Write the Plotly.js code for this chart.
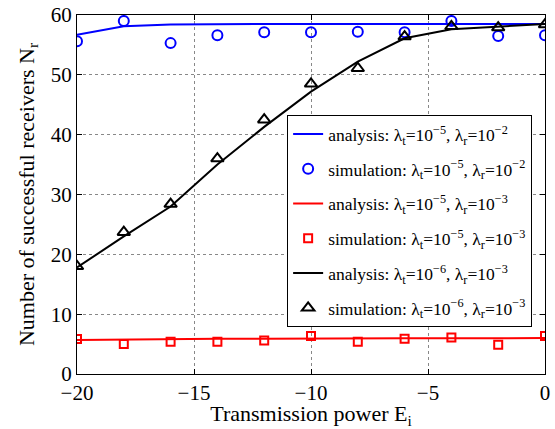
<!DOCTYPE html>
<html><head><meta charset="utf-8">
<script src="https://cdn.plot.ly/plotly-3.0.1.min.js"></script>
<style>html,body{margin:0;padding:0;background:#fff}</style>
</head><body>
<div id="chart" style="width:555px;height:429px"></div>
<script>
var xs = [-20, -18, -16, -14, -12, -10, -8, -6, -4, -2, 0];
var anaBlue = [56.7, 58.1, 58.4, 58.5, 58.5, 58.5, 58.5, 58.5, 58.5, 58.5, 58.5];
var simBlue = [55.6, 59.0, 55.3, 56.6, 57.1, 57.1, 57.2, 57.1, 59.0, 56.5, 56.6];
var anaRed = [5.7, 5.8, 5.85, 5.9, 5.9, 5.95, 5.95, 5.97, 5.97, 5.97, 6.0];
var simRed = [5.85, 5.0, 5.4, 5.4, 5.6, 6.35, 5.4, 5.9, 6.1, 4.9, 6.35];
var anaBlack = [17.8, 23.0, 28.0, 35.0, 41.3, 47.2, 52.2, 56.1, 57.6, 58.1, 58.5];
var simBlack = [18.0, 23.7, 28.4, 36.0, 42.5, 48.5, 51.1, 56.4, 58.1, 57.9, 58.4];
var names = [
  'analysis: λ<sub>t</sub>=10<sup>−5</sup>, λ<sub>r</sub>=10<sup>−2</sup>',
  'simulation: λ<sub>t</sub>=10<sup>−5</sup>, λ<sub>r</sub>=10<sup>−2</sup>',
  'analysis: λ<sub>t</sub>=10<sup>−5</sup>, λ<sub>r</sub>=10<sup>−3</sup>',
  'simulation: λ<sub>t</sub>=10<sup>−5</sup>, λ<sub>r</sub>=10<sup>−3</sup>',
  'analysis: λ<sub>t</sub>=10<sup>−6</sup>, λ<sub>r</sub>=10<sup>−3</sup>',
  'simulation: λ<sub>t</sub>=10<sup>−6</sup>, λ<sub>r</sub>=10<sup>−3</sup>'
];
var blue = '#0000ff', red = '#ff0000', black = '#000000';
var traces = [
  {x: xs, y: anaBlue, name: names[0], legendgroup: 'a', mode: 'lines', line: {color: blue, width: 2}},
  {x: xs, y: simBlue, name: names[1], legendgroup: 'b', mode: 'markers', marker: {symbol: 'circle-open', size: 10, color: blue, line: {width: 2}}},
  {x: xs, y: anaRed, name: names[2], legendgroup: 'c', mode: 'lines', line: {color: red, width: 2}},
  {x: xs, y: simRed, name: names[3], legendgroup: 'd', mode: 'markers', marker: {symbol: 'square-open', size: 8, color: red, line: {width: 2}}},
  {x: xs, y: anaBlack, name: names[4], legendgroup: 'e', mode: 'lines', line: {color: black, width: 2}},
  {x: xs, y: simBlack, name: names[5], legendgroup: 'f', mode: 'markers', marker: {symbol: 'triangle-up-open', size: 11, color: black, line: {width: 2}}}
];
var fam = 'Liberation Serif, Times New Roman, serif';
var layout = {
  width: 555, height: 429,
  margin: {l: 77, r: 10, t: 15, b: 55, autoexpand: false},
  paper_bgcolor: '#fff', plot_bgcolor: '#fff',
  font: {family: fam, size: 20, color: '#000'},
  showlegend: true,
  legend: {x: 0.449, y: 0.721, xanchor: 'left', yanchor: 'top', bgcolor: '#fff', bordercolor: '#000', borderwidth: 1,
    font: {family: fam, size: 17.5, color: '#000'}, tracegroupgap: 9},
  xaxis: {range: [-20, 0], dtick: 5, tick0: -20, ticks: 'inside', ticklen: 5, tickcolor: '#000', showline: true, linecolor: '#000', linewidth: 1, mirror: 'ticks',
    showgrid: true, gridcolor: '#888', griddash: 'dot', gridwidth: 1, zeroline: false, automargin: false,
    tickfont: {family: fam, size: 21},
    title: {text: 'Transmission power E<sub>i</sub>', font: {family: fam, size: 22}, standoff: 5}},
  yaxis: {range: [0, 60], dtick: 10, ticks: 'inside', ticklen: 5, tickcolor: '#000', showline: true, linecolor: '#000', linewidth: 1, mirror: 'ticks',
    showgrid: true, gridcolor: '#888', griddash: 'dot', gridwidth: 1, zeroline: false, automargin: false,
    tickfont: {family: fam, size: 21},
    title: {text: 'Number of successful receivers N<sub>r</sub>', font: {family: fam, size: 22}, standoff: 10}}
};
Plotly.newPlot('chart', traces, layout, {displayModeBar: false, staticPlot: true});
</script>
</body></html>
